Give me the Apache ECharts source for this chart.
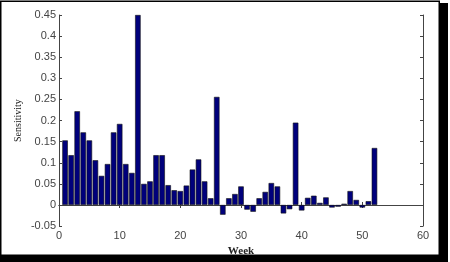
<!DOCTYPE html>
<html>
<head>
<meta charset="utf-8">
<script src="https://cdn.jsdelivr.net/npm/echarts@6/dist/echarts.min.js"></script>
<style>
  html, body { margin: 0; padding: 0; background: #fff; }
  #chart { width: 450px; height: 262px; }
</style>
</head>
<body>
<div id="chart"></div>
<script>
// data
const weeks = [1, 2, 3, 4, 5, 6, 7, 8, 9, 10, 11, 12, 13, 14, 15, 16, 17, 18, 19, 20,
  21, 22, 23, 24, 25, 26, 27, 28, 29, 30, 31, 32, 33, 34, 35, 36, 37, 38, 39, 40,
  41, 42, 43, 44, 45, 46, 47, 48, 49, 50, 51, 52]
const sensitivity = [0.153, 0.118, 0.222, 0.172, 0.153, 0.106, 0.069, 0.097, 0.172, 0.192,
  0.097, 0.076, 0.45, 0.05, 0.056, 0.118, 0.118, 0.047, 0.035, 0.033,
  0.046, 0.084, 0.108, 0.056, 0.016, 0.256, -0.023, 0.016, 0.026, 0.044,
  -0.011, -0.016, 0.016, 0.031, 0.052, 0.044, -0.02, -0.01, 0.195, -0.013,
  0.017, 0.022, 0.005, 0.018, -0.006, -0.004, 0.003, 0.033, 0.012, -0.006,
  0.009, 0.135]
const xTicks = { min: 0, max: 60, step: 10 }
const yTicks = { min: -0.05, max: 0.45, step: 0.05 }

const chart = echarts.init(document.getElementById('chart'))

const axisColor = '#444'
const labelFont = { color: '#444', fontFamily: 'Liberation Sans, Arial, sans-serif', fontSize: 11 }

// 坐标轴: 底/左带标签, 顶/右只画刻度
const xAxisBase = {
  type: 'value',
  min: xTicks.min,
  max: xTicks.max,
  interval: xTicks.step,
  axisLine: { show: true, lineStyle: { color: axisColor, width: 1 } },
  axisTick: { show: true, inside: true, length: 3, lineStyle: { color: axisColor } },
  splitLine: { show: false }
}
const yAxisBase = {
  type: 'value',
  min: yTicks.min,
  max: yTicks.max,
  interval: yTicks.step,
  axisLine: { show: true, onZero: false, lineStyle: { color: axisColor, width: 1 } },
  axisTick: { show: true, inside: true, length: 3, lineStyle: { color: axisColor } },
  splitLine: { show: false }
}

const option = {
  animation: false,
  grid: { left: 59, right: 27, top: 15, bottom: 29, containLabel: false },
  xAxis: [
    Object.assign({}, xAxisBase, {
      position: 'bottom',
      axisLabel: Object.assign({ margin: 4 }, labelFont),
      name: 'Week',
      nameLocation: 'middle',
      nameGap: 9,
      nameTextStyle: { fontFamily: 'Liberation Serif, Times New Roman, serif', fontWeight: 'bold', fontSize: 11, color: '#222' }
    }),
    Object.assign({}, xAxisBase, { position: 'top', axisLabel: { show: false } })
  ],
  yAxis: [
    Object.assign({}, yAxisBase, {
      position: 'left',
      axisLabel: Object.assign({ margin: 3, formatter: v => String(+v.toFixed(2)) }, labelFont),
      name: 'Sensitivity',
      nameLocation: 'middle',
      nameRotate: 90,
      nameGap: 36,
      nameMoveOverlap: false,
      nameTextStyle: { fontFamily: 'Liberation Serif, Times New Roman, serif', fontSize: 10, color: '#222' }
    }),
    Object.assign({}, yAxisBase, { position: 'right', axisLabel: { show: false } })
  ],
  series: [
    {
      type: 'bar',
      xAxisIndex: 0,
      yAxisIndex: 0,
      data: weeks.map((w, i) => [w, sensitivity[i]]),
      barWidth: 5.5,
      itemStyle: { color: '#00007c', borderColor: '#111', borderWidth: 0.6 },
      markLine: {
        silent: true,
        symbol: ['none', 'none'],
        label: { show: false },
        lineStyle: { color: '#aaa', type: 'solid', width: 1 },
        z: 0,
        data: [{ yAxis: 0 }]
      }
    }
  ],
  // 外框和阴影
  graphic: [
    { type: 'rect', silent: true, shape: { x: 439, y: 3, width: 9, height: 259 }, style: { fill: '#000' } },
    { type: 'rect', silent: true, shape: { x: 0, y: 255, width: 448, height: 7 }, style: { fill: '#000' } },
    { type: 'rect', silent: true, shape: { x: 0.75, y: 1.25, width: 438.5, height: 254 }, style: { fill: 'none', stroke: '#000', lineWidth: 1.5 } }
  ]
}

chart.setOption(option)
</script>
</body>
</html>
